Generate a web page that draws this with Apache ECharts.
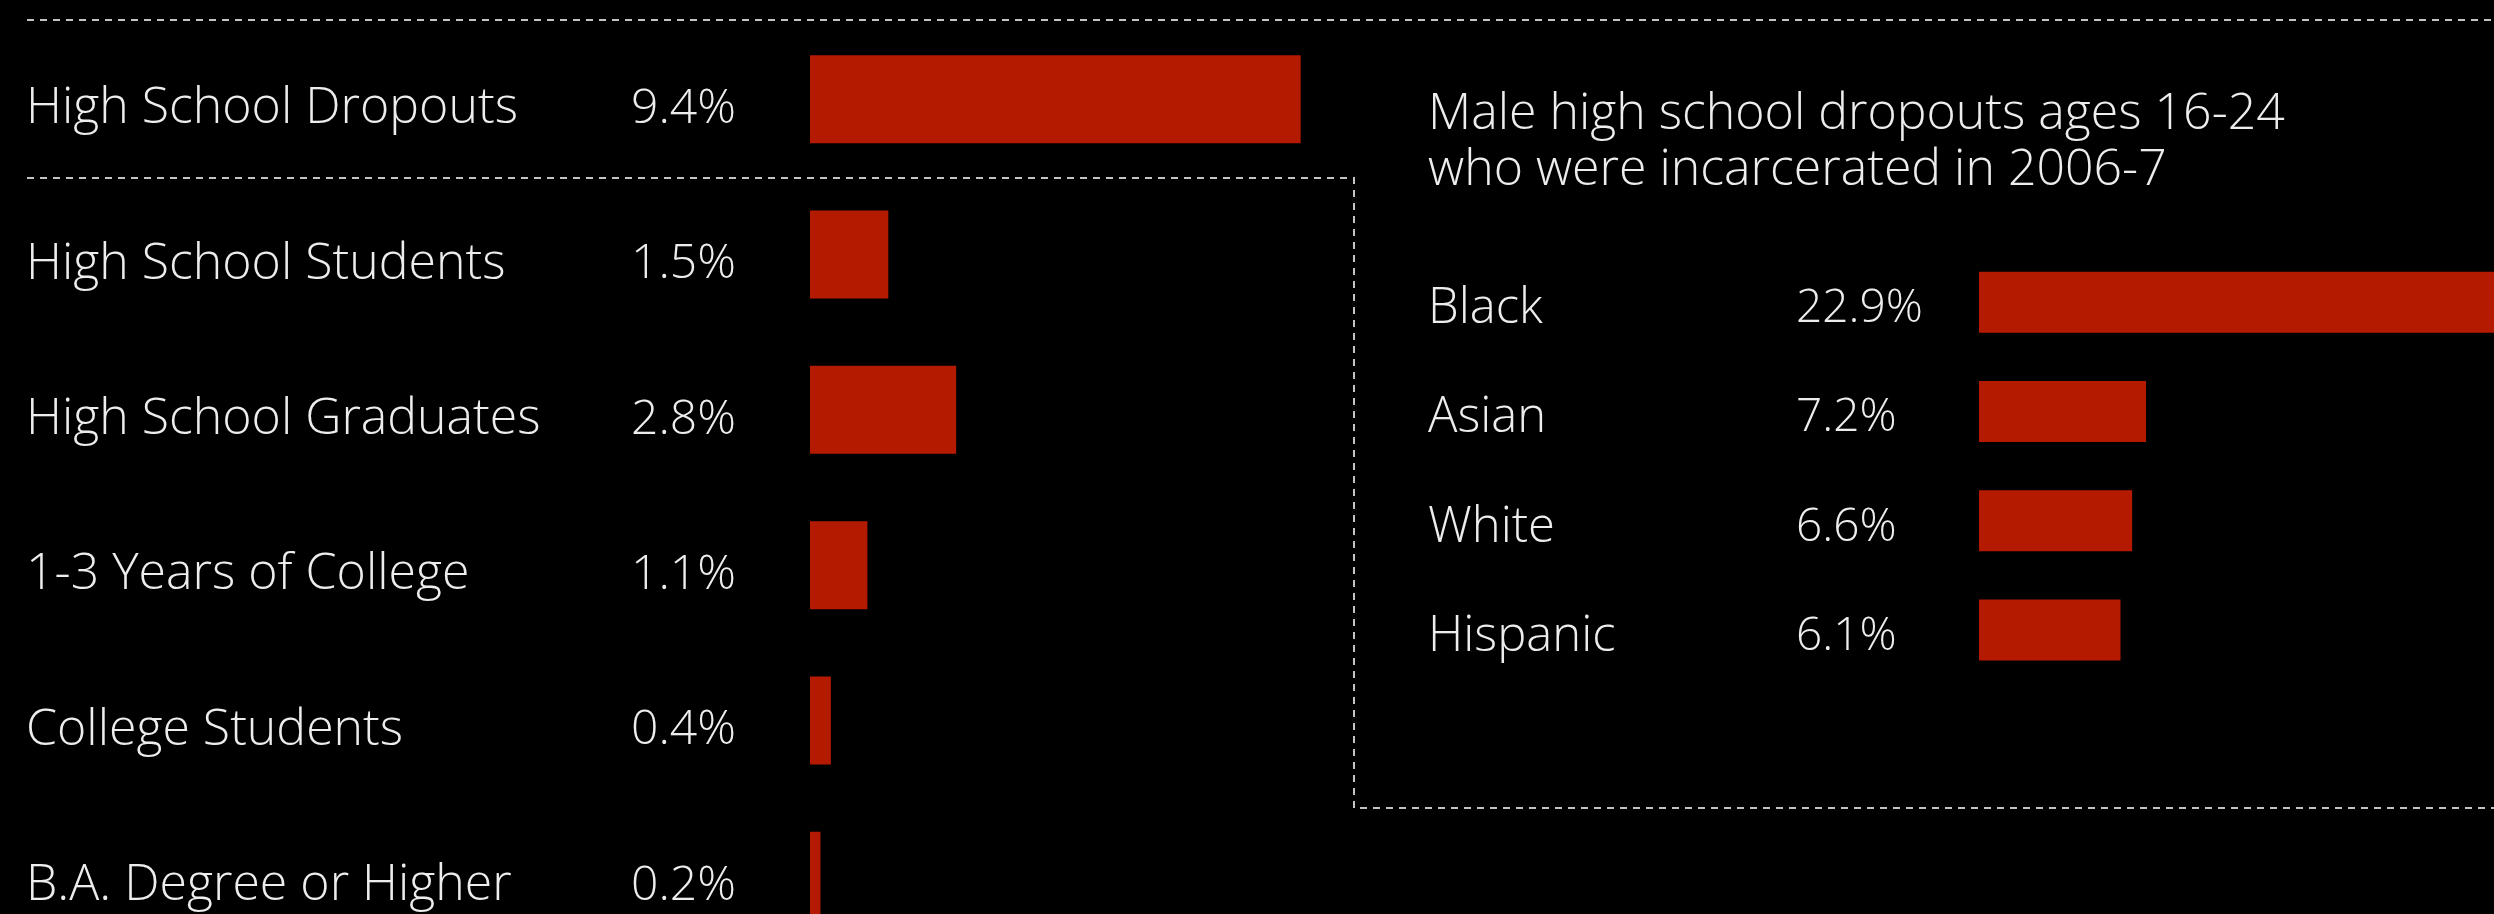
<!DOCTYPE html>
<html>
<head>
<meta charset="utf-8">
<title>Incarceration rates by education and race</title>
<script src="https://cdn.jsdelivr.net/npm/echarts@6/dist/echarts.min.js"></script>
<style>
  html, body { margin: 0; padding: 0; background: #000; }
  #chart { width: 2494px; height: 914px; }
</style>
</head>
<body>
<div id="chart"></div>
<script>
// Share of young men incarcerated, by educational attainment (%)
const educationCategories = [
  'High School Dropouts',
  'High School Students',
  'High School Graduates',
  '1-3 Years of College',
  'College Students',
  'B.A. Degree or Higher'
];
const educationValues = [9.4, 1.5, 2.8, 1.1, 0.4, 0.2];

// Male high school dropouts ages 16-24 incarcerated in 2006-7, by race (%)
const raceCategories = ['Black', 'Asian', 'White', 'Hispanic'];
const raceValues = [22.9, 7.2, 6.6, 6.1];

const insetTitle = 'Male high school dropouts ages 16-24\nwho were incarcerated in 2006-7';

const FONT = '"Open Sans"';
const TEXT = '#ededed';
const BAR = '#b41a00';
const RULE = '#c4c4c4';

const chart = echarts.init(document.getElementById('chart'), null, { renderer: 'canvas' });

const labelStyle = (size) => ({
  color: TEXT,
  fontFamily: FONT,
  fontWeight: 300,
  fontSize: size
});

// Category names sit slightly below the bar centre line
const nudgedLabel = (size, drop) => ({
  align: 'left',
  formatter: '{t|{value}}',
  rich: {
    t: Object.assign(labelStyle(size), { padding: [drop * 2, 0, 0, 0] })
  }
});

chart.setOption({
  backgroundColor: '#000',
  animation: false,
  title: {
    text: insetTitle,
    left: 1428,
    top: 87,
    padding: 0,
    textStyle: Object.assign(labelStyle(50), { lineHeight: 56 })
  },
  grid: [
    { left: 810, top: 21.5, width: 522, height: 932, outerBoundsMode: 'none', containLabel: false },
    { left: 1979, top: 247.5, width: 580, height: 437, outerBoundsMode: 'none', containLabel: false }
  ],
  xAxis: [
    { type: 'value', gridIndex: 0, min: 0, max: 10, show: false },
    { type: 'value', gridIndex: 1, min: 0, max: 25, show: false }
  ],
  yAxis: [
    {
      type: 'category', gridIndex: 0, inverse: true, data: educationCategories,
      axisLine: { show: false }, axisTick: { show: false }, splitLine: { show: false },
      axisLabel: Object.assign(nudgedLabel(50, 10), { margin: 784 })
    },
    {
      type: 'category', gridIndex: 1, inverse: true, data: raceCategories,
      axisLine: { show: false }, axisTick: { show: false }, splitLine: { show: false },
      axisLabel: Object.assign(nudgedLabel(49, 7), { margin: 551 })
    }
  ],
  series: [
    {
      type: 'bar', xAxisIndex: 0, yAxisIndex: 0, data: educationValues,
      barWidth: 88, itemStyle: { color: BAR },
      label: Object.assign(labelStyle(48), {
        show: true, position: 'left', distance: 74, formatter: '{c}%', offset: [0, 10]
      })
    },
    {
      type: 'bar', xAxisIndex: 1, yAxisIndex: 1, data: raceValues,
      barWidth: 61, itemStyle: { color: BAR },
      label: Object.assign(labelStyle(46), {
        show: true, position: 'left', align: 'left', distance: 183, formatter: '{c}%', offset: [0, 7]
      })
    }
  ],
  graphic: [
    {
      type: 'line', silent: true,
      shape: { x1: 27, y1: 20, x2: 2494, y2: 20 },
      style: { stroke: RULE, lineWidth: 2, lineDash: [7, 6] }
    },
    {
      type: 'polyline', silent: true,
      shape: { points: [[27, 178], [1354, 178], [1354, 808], [2494, 808]] },
      style: { stroke: RULE, lineWidth: 2, lineDash: [7, 6], fill: null }
    }
  ]
});
</script>
</body>
</html>
